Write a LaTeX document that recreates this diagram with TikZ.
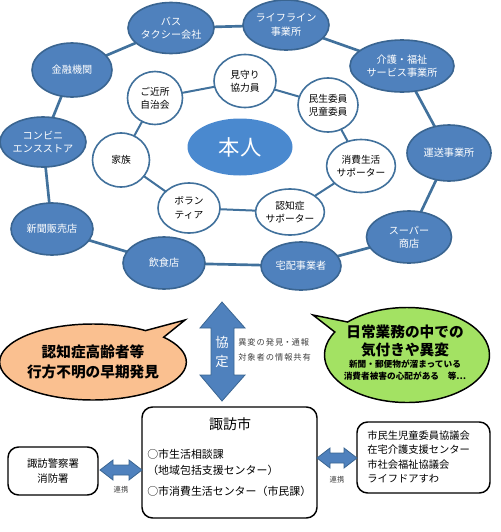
\documentclass[tikz,border=0pt]{standalone}
\usepackage{fontspec}
\setmainfont{Noto Sans CJK JP}
\usetikzlibrary{shapes.geometric,shapes.callouts,backgrounds}
\definecolor{oblue}{HTML}{4F81BD}
\definecolor{oborder}{HTML}{3A6591}
\definecolor{ring}{HTML}{41719C}
\definecolor{selfblue}{HTML}{4A89CF}
\definecolor{orangefill}{HTML}{FAC090}
\definecolor{greenfill}{HTML}{A3E263}
\definecolor{txtgray}{HTML}{404040}
\def\pxu{0.75pt}
\tikzset{
  outerbox/.style={ellipse, draw=oborder, line width=1.2pt, fill=oblue, text=white,
    inner sep=0pt, align=center, font=\fontsize{7.6}{10}\selectfont},
  innerbox/.style={ellipse, draw=ring, line width=1.2pt, fill=white, text=black,
    inner sep=0pt, align=center, font=\fontsize{7.3}{10}\selectfont},
  ringline/.style={draw=ring, line width=2pt},
  innerline/.style={draw=ring, line width=1.5pt},
  plainbox/.style={draw=black, line width=1.1pt, rounded corners=8pt, fill=white},
  fatarrow/.style={fill=oblue, draw=oborder, line width=0.6pt},
  bigbold/.style={font=\bfseries\fontsize{11}{14}\selectfont, inner sep=0pt},
  smallbold/.style={font=\bfseries\fontsize{6.5}{8}\selectfont, inner sep=0pt},
}
\begin{document}
\begin{tikzpicture}[x=0.75pt,y=-0.75pt]
\useasboundingbox (0,0) rectangle (500,532);
% outer ring nodes
\node[outerbox, minimum width=82*\pxu, minimum height=51*\pxu] (bus) at (171,28) {バス\\タクシー会社};
\node[outerbox, minimum width=86*\pxu, minimum height=50*\pxu] (life) at (286,25) {ライフライン\\事業所};
\node[outerbox, minimum width=104*\pxu, minimum height=52*\pxu] (kaigo) at (402,66) {介護・福祉\\サービス事業所};
\node[outerbox, minimum width=84*\pxu, minimum height=56*\pxu] (unso) at (449,153) {運送事業所};
\node[outerbox, minimum width=85*\pxu, minimum height=52*\pxu] (super) at (409,237) {スーパー\\商店};
\node[outerbox, minimum width=80*\pxu, minimum height=48*\pxu] (takuhai) at (301,266) {宅配事業者};
\node[outerbox, minimum width=82*\pxu, minimum height=52*\pxu] (inshoku) at (164,263) {飲食店};
\node[outerbox, minimum width=82*\pxu, minimum height=52*\pxu] (shinbun) at (52,229) {新聞販売店};
\node[outerbox, minimum width=86*\pxu, minimum height=50*\pxu] (conv) at (43,142) {コンビニ\\エンスストア};
\node[outerbox, minimum width=80*\pxu, minimum height=54*\pxu] (kinyu) at (72,70) {金融機関};
% inner ring nodes
\node[innerbox, minimum width=55*\pxu, minimum height=53*\pxu] (jichi) at (155,98) {ご近所\\自治会};
\node[innerbox, minimum width=62*\pxu, minimum height=53*\pxu] (mimamori) at (245,81) {見守り\\協力員};
\node[innerbox, minimum width=60*\pxu, minimum height=54*\pxu] (minsei) at (328,105) {民生委員\\児童委員};
\node[innerbox, minimum width=65*\pxu, minimum height=53*\pxu] (shohi) at (361,166) {消費生活\\サポーター};
\node[innerbox, minimum width=64*\pxu, minimum height=46*\pxu] (ninchi) at (290,212) {認知症\\サポーター};
\node[innerbox, minimum width=62*\pxu, minimum height=50*\pxu] (vol) at (189,208) {ボラン\\ティア};
\node[innerbox, minimum width=57*\pxu, minimum height=54*\pxu] (kazoku) at (121,160) {家族};
% self
\node[ellipse, fill=selfblue, draw=none, text=white, minimum width=105*\pxu, minimum height=57*\pxu,
  inner sep=0pt, font=\fontsize{16}{18}\selectfont] (self) at (240,147) {本人};
\begin{pgfonlayer}{background}
  \path[ringline] (bus.center) -- (life.center) -- (kaigo.center) -- (unso.center) -- (super.center)
    -- (takuhai.center) -- (inshoku.center) -- (shinbun.center) -- (conv.center) -- (kinyu.center) -- (bus.center);
  \path[innerline] (jichi.center) -- (mimamori.center) -- (minsei.center) -- (shohi.center)
    -- (ninchi.center) -- (vol.center) -- (kazoku.center) -- (jichi.center);
\end{pgfonlayer}
% bubbles
\node[ellipse callout, draw=black, line width=1.1pt, fill=orangefill, minimum width=157*\pxu,
  minimum height=76*\pxu, inner sep=0pt, align=center, callout absolute pointer={(185,320)},
  font=\bfseries\fontsize{11}{14.5}\selectfont] (orange) at (93,362) {認知症高齢者等\\行方不明の早期発見};
\node[ellipse callout, draw=black, line width=1.1pt, fill=greenfill, minimum width=165*\pxu,
  minimum height=95*\pxu, inner sep=0pt, callout absolute pointer={(313,315)}] (green) at (407,355) {};
\node[bigbold] (g1) at (405,332) {日常業務の中での};
\node[bigbold] (g2) at (405,350) {気付きや異変};
\node[smallbold] (g3) at (405,364) {新聞・郵便物が溜まっている};
\node[smallbold] (g4) at (405,376) {消費者被害の心配がある　等…};
% vertical agreement arrow
\path[fatarrow] (222,302) -- (245,328) -- (234,328) -- (234,375) -- (245,375) -- (222,401)
  -- (200,375) -- (211,375) -- (211,328) -- (200,328) -- cycle;
\node[text=white, align=center, inner sep=0pt, font=\fontsize{10}{14}\selectfont] (kyotei) at (222,352) {協\\定};
\node[anchor=west, text=txtgray, align=left, inner sep=0pt, font=\fontsize{6.2}{11.5}\selectfont] (share) at (238,350)
  {異\kern0.7pt 変\kern0.7pt の\kern0.7pt 発\kern0.7pt 見・通\kern0.7pt 報\\対\kern0.7pt 象\kern0.7pt 者\kern0.7pt の\kern0.7pt 情\kern0.7pt 報\kern0.7pt 共\kern0.7pt 有};
% bottom boxes
\node[plainbox, minimum width=175*\pxu, minimum height=111*\pxu] (suwa) at (229.5,462.5) {};
\node[font=\fontsize{10.5}{12}\selectfont, inner sep=0pt] (suwatitle) at (230,424) {諏訪市};
\node[anchor=west, align=left, inner sep=0pt, font=\fontsize{8.2}{12}\selectfont] (items) at (147,473)
  {○市生活相談課\\（地域包括支援センター）\\[4pt]○市消費生活センター（市民課）};
\node[plainbox, minimum width=90*\pxu, minimum height=48*\pxu, align=center,
  font=\fontsize{7.8}{11.5}\selectfont] (police) at (53,471) {諏訪警察署\\消防署};
\node[plainbox, minimum width=133*\pxu, minimum height=71*\pxu] (orgs) at (423.5,457.5) {};
\node[anchor=west, align=left, inner sep=0pt, font=\fontsize{7.7}{10.8}\selectfont] (orglist) at (367,457)
  {市民生児童委員協議会\\在宅介護支援センター\\市社会福祉協議会\\ライフドアすわ};
% horizontal arrows
\path[fatarrow] (100,470) -- (113,460) -- (113,465) -- (129,465) -- (129,460) -- (142,470)
  -- (129,480) -- (129,475) -- (113,475) -- (113,480) -- cycle;
\node[text=txtgray, font=\fontsize{5.5}{7}\selectfont, inner sep=0pt] (renkei1) at (121,490) {連携};
\path[fatarrow] (317,458) -- (330,448) -- (330,453) -- (344,453) -- (344,448) -- (357,458)
  -- (344,468) -- (344,463) -- (330,463) -- (330,468) -- cycle;
\node[text=txtgray, font=\fontsize{5.5}{7}\selectfont, inner sep=0pt] (renkei2) at (337,480) {連携};
\end{tikzpicture}
\end{document}
